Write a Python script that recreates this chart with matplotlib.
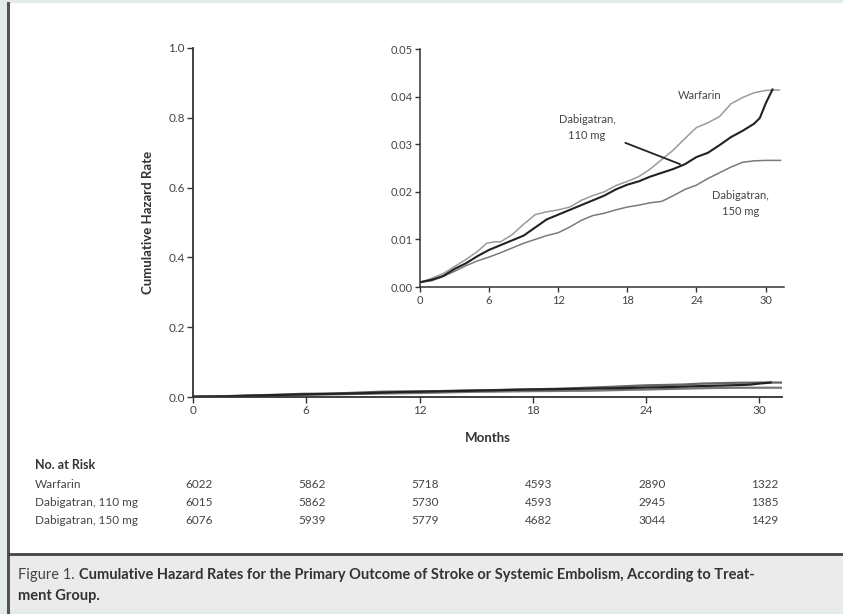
import matplotlib
matplotlib.use("Agg")
import matplotlib.pyplot as plt
from matplotlib.patches import Rectangle
from matplotlib.lines import Line2D
from matplotlib.transforms import blended_transform_factory

plt.rcParams['font.family'] = ['Lato', 'DejaVu Sans']

# cumulative hazard
war_t = [0, 1, 2, 3, 4, 5, 5.8, 6.5, 7, 8, 9, 10, 11, 12, 13, 14, 15, 16, 17, 18,
         19, 20, 21, 22, 23, 24, 25, 26, 27, 28, 29, 30, 31.2]
war_h = [0.001, 0.0018, 0.0028, 0.0043, 0.0058, 0.0075, 0.0092, 0.0095, 0.0095, 0.011,
         0.0132, 0.0152, 0.0158, 0.0162, 0.0168, 0.0182, 0.0192, 0.0200, 0.0213, 0.0222,
         0.0232, 0.0248, 0.0268, 0.0288, 0.0312, 0.0335, 0.0345, 0.0358, 0.0385, 0.0398,
         0.0408, 0.0413, 0.0414]
d110_t = [0, 1, 2, 3, 4, 5, 6, 7, 8, 9, 10, 11, 12, 13, 14, 15, 16, 17, 18, 19, 20,
          21, 22, 23, 24, 25, 26, 27, 28, 29, 29.5, 30, 30.6]
d110_h = [0.001, 0.0015, 0.0023, 0.0038, 0.005, 0.0065, 0.0078, 0.0088, 0.0098, 0.0108,
          0.0125, 0.0142, 0.0152, 0.0162, 0.0172, 0.0182, 0.0192, 0.0205, 0.0215, 0.0222,
          0.0232, 0.0240, 0.0248, 0.0258, 0.0273, 0.0282, 0.0298, 0.0315, 0.0328, 0.0343,
          0.0355, 0.0385, 0.0415]
d150_t = [0, 1, 2, 3, 4, 5, 6, 7, 8, 9, 10, 11, 12, 13, 14, 15, 16, 17, 18, 19, 20,
          21, 22, 23, 24, 25, 26, 27, 28, 29, 30, 31.3]
d150_h = [0.001, 0.0013, 0.0022, 0.0033, 0.0045, 0.0055, 0.0063, 0.0072, 0.0082, 0.0092,
          0.0100, 0.0108, 0.0114, 0.0126, 0.0140, 0.0150, 0.0155, 0.0162, 0.0168, 0.0172,
          0.0177, 0.0180, 0.0192, 0.0205, 0.0214, 0.0228, 0.0240, 0.0252, 0.0262, 0.0265,
          0.0266, 0.0266]

risk_months = [0, 6, 12, 18, 24, 30]
risk_groups = ["Warfarin", "Dabigatran, 110 mg", "Dabigatran, 150 mg"]
risk_war = [6022, 5862, 5718, 4593, 2890, 1322]
risk_d110 = [6015, 5862, 5730, 4593, 2945, 1385]
risk_d150 = [6076, 5939, 5779, 4682, 3044, 1429]

caption0 = "Figure 1."
caption1 = "Cumulative Hazard Rates for the Primary Outcome of Stroke or Systemic Embolism, According to Treat-"
caption2 = "ment Group."

W, H = 843, 614
fig = plt.figure(figsize=(W / 100, H / 100), dpi=100)
fig.patch.set_facecolor('#e4ece9')

def fx(px):
    return px / W

def fy(py):
    return 1 - py / H

# page background pieces
fig.add_artist(Rectangle((fx(9), fy(553)), 1, fy(3) - fy(553), transform=fig.transFigure,
                         facecolor='white', edgecolor='none', zorder=0))
fig.add_artist(Rectangle((fx(9), fy(611)), 1, fy(555) - fy(611), transform=fig.transFigure,
                         facecolor='#ebebeb', edgecolor='none', zorder=0))
fig.add_artist(Line2D([fx(8), fx(8)], [0, fy(3)], transform=fig.transFigure,
                      color='#555555', lw=2.2))
fig.add_artist(Line2D([fx(9), 1], [fy(554), fy(554)], transform=fig.transFigure,
                      color='#444444', lw=2.0))

txt_col = '#444444'

# main axes
ax = fig.add_axes([fx(193), fy(397), fx(782) - fx(193), fy(48) - fy(397)])
ax.set_facecolor('none')
ax.set_xlim(0, 31.2)
ax.set_ylim(0, 1.0)
ax.plot(war_t, war_h, color='#666666', lw=1.6)
ax.plot(d150_t, d150_h, color='#777777', lw=1.6)
ax.plot(d110_t, d110_h, color='#222222', lw=1.6)
ax.set_xticks(risk_months)
ax.set_yticks([0, 0.2, 0.4, 0.6, 0.8, 1.0])
ax.set_yticklabels(['0.0', '0.2', '0.4', '0.6', '0.8', '1.0'])
for s in ['top', 'right']:
    ax.spines[s].set_visible(False)
for s in ['left', 'bottom']:
    ax.spines[s].set_color('#333333')
    ax.spines[s].set_linewidth(1.3)
ax.tick_params(length=4, width=1, color='#333333', labelsize=8.5, labelcolor=txt_col, pad=2)
ax.set_ylabel('Cumulative Hazard Rate', fontsize=9.5, fontweight='bold', color='#333333', labelpad=10)
ax.set_xlabel('Months', fontsize=9.5, fontweight='bold', color='#333333', labelpad=11)

# inset
ins = fig.add_axes([fx(420), fy(287), fx(784) - fx(420), fy(49) - fy(287)])
ins.set_facecolor('none')
ins.set_xlim(0, 31.6)
ins.set_ylim(0, 0.05)
ins.plot(war_t, war_h, color='#9a9a9a', lw=1.1)
ins.plot(d150_t, d150_h, color='#7a7a7a', lw=1.1)
ins.plot(d110_t, d110_h, color='#222222', lw=1.5)
ins.set_xticks(risk_months)
ins.set_yticks([0, 0.01, 0.02, 0.03, 0.04, 0.05])
ins.set_yticklabels(['0.00', '0.01', '0.02', '0.03', '0.04', '0.05'])
for s in ['top', 'right']:
    ins.spines[s].set_visible(False)
for s in ['left', 'bottom']:
    ins.spines[s].set_color('#333333')
    ins.spines[s].set_linewidth(1.1)
ins.tick_params(length=3.5, width=1, color='#333333', labelsize=8, labelcolor=txt_col, pad=2)

ins.text(24.3, 0.0403, 'Warfarin', fontsize=8, color=txt_col, ha='center', va='center')
ins.text(14.5, 0.0335, 'Dabigatran,\n110 mg', fontsize=8, color=txt_col, ha='center',
         va='center', linespacing=1.5)
ins.annotate('', xy=(22.8, 0.0256), xytext=(17.6, 0.0305),
             arrowprops=dict(arrowstyle='-', color='#222222', lw=1.3))
ins.text(27.8, 0.0175, 'Dabigatran,\n150 mg', fontsize=8, color=txt_col, ha='center',
         va='center', linespacing=1.5)

# number at risk
fig.text(fx(35), fy(465), 'No. at Risk', fontsize=9, fontweight='bold', color='#333333',
         va='center', ha='left')
rows = [risk_war, risk_d110, risk_d150]
row_y = [484, 502, 520]
tr = blended_transform_factory(ax.transData, fig.transFigure)
for name, vals, py in zip(risk_groups, rows, row_y):
    fig.text(fx(35), fy(py), name, fontsize=8.5, color=txt_col, va='center', ha='left')
    for m, v in zip(risk_months, vals):
        ax.text(m + 0.3, fy(py), str(v), fontsize=8.5, color=txt_col, va='center', ha='center',
                transform=tr, clip_on=False)

# caption
t0 = fig.text(fx(18), fy(575), caption0, fontsize=10.5, color='#444444', va='center', ha='left')
r = fig.canvas.get_renderer()
x_end = t0.get_window_extent(renderer=r).x1
fig.text(fx(x_end + 4), fy(575), caption1, fontsize=10.5, fontweight='bold', color='#333333',
         va='center', ha='left')
fig.text(fx(18), fy(596), caption2, fontsize=10.5, fontweight='bold', color='#333333',
         va='center', ha='left')

fig.savefig('out.png', dpi=100, facecolor=fig.get_facecolor())
